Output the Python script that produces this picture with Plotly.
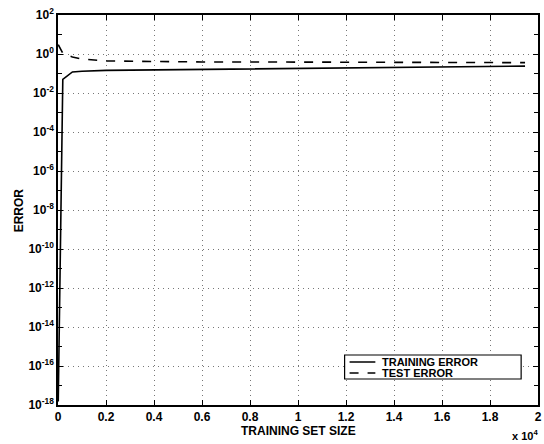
import plotly.graph_objects as go

# Data
train_x = [10, 200, 600, 1000, 2000, 3000, 4000, 6000, 8000, 10000, 12000, 14000, 16000, 18000, 19460]
train_y = [1.5e-18, 0.05, 0.12, 0.13, 0.145, 0.15, 0.155, 0.165, 0.175, 0.185, 0.195, 0.205, 0.215, 0.23, 0.24]
test_x = [10, 200, 600, 1000, 2000, 3000, 4000, 6000, 8000, 10000, 12000, 14000, 16000, 18000, 19460]
test_y = [3.0, 1.1, 0.7, 0.55, 0.44, 0.42, 0.40, 0.39, 0.39, 0.39, 0.39, 0.38, 0.38, 0.37, 0.36]
series_names = ["TRAINING ERROR", "TEST ERROR"]

x_tickvals = [0, 2000, 4000, 6000, 8000, 10000, 12000, 14000, 16000, 18000, 20000]
x_ticktext = ["0", "0.2", "0.4", "0.6", "0.8", "1", "1.2", "1.4", "1.6", "1.8", "2"]
y_exps = [2, 0, -2, -4, -6, -8, -10, -12, -14, -16, -18]

FONT = "Liberation Sans, Arial, sans-serif"
L, R, T, B, W, H = 58, 2, 15, 39, 544, 444
PW, PH = W - L - R, H - T - B


def px(x):
    return (x - L) / PW


def py(y):
    return (H - B - y) / PH


fig = go.Figure()
fig.add_trace(go.Scatter(x=train_x, y=train_y, mode="lines", name=series_names[0],
                         line=dict(color="black", width=1.6)))
fig.add_trace(go.Scatter(x=test_x, y=test_y, mode="lines", name=series_names[1],
                         line=dict(color="black", width=1.6, dash="dash")))

fig.update_layout(
    width=W, height=H,
    margin=dict(l=L, r=R, t=T, b=B),
    paper_bgcolor="white", plot_bgcolor="white",
    font=dict(family=FONT, size=12, color="black"),
    showlegend=False,
)

grid_style = dict(showgrid=True, gridcolor="#777777", gridwidth=1, griddash="1px,4px")

fig.update_xaxes(
    range=[0, 20000], tickvals=x_tickvals, ticktext=["<b>%s</b>" % t for t in x_ticktext],
    showline=True, linecolor="black", linewidth=1.5, mirror="ticks",
    ticks="inside", ticklen=5, tickcolor="black",
    zeroline=False, tickfont=dict(size=12), **grid_style,
)
fig.update_yaxes(
    type="log", range=[-18, 2],
    tickvals=[10.0 ** e for e in y_exps],
    ticktext=["<b>10<sup>%d</sup></b>" % e for e in y_exps],
    showline=True, linecolor="black", linewidth=1.5, mirror="ticks",
    ticks="inside", ticklen=5, tickcolor="black",
    minor=dict(tickvals=[10.0 ** e for e in range(-17, 2, 2)], ticks="inside", ticklen=4,
               tickcolor="black", showgrid=False),
    zeroline=False, tickfont=dict(size=12), **grid_style,
)

# axis titles
fig.add_annotation(text="<b>TRAINING SET SIZE</b>", xref="paper", yref="paper",
                   x=0.5, y=py(431), xanchor="center", yanchor="middle", showarrow=False,
                   font=dict(size=12))
fig.add_annotation(text="<b>ERROR</b>", xref="paper", yref="paper", textangle=-90,
                   x=px(19), y=0.5, xanchor="center", yanchor="middle", showarrow=False,
                   font=dict(size=12))
fig.add_annotation(text="<b>x 10<sup>4</sup></b>", xref="paper", yref="paper",
                   x=px(544), y=py(435), xanchor="right", yanchor="middle", showarrow=False,
                   font=dict(size=11))

# legend box
fig.add_shape(type="rect", xref="paper", yref="paper", x0=px(347), x1=px(525), y0=py(379), y1=py(355),
              line=dict(color="black", width=1.2), fillcolor="white", layer="above")
rows = [362, 373]
dashes = ["solid", "dash"]
for name, row, dsh in zip(series_names, rows, dashes):
    fig.add_shape(type="line", xref="paper", yref="paper", x0=px(352), x1=px(378), y0=py(row), y1=py(row),
                  line=dict(color="black", width=1.5, dash=dsh), layer="above")
    fig.add_annotation(text="<b>%s</b>" % name, xref="paper", yref="paper",
                       x=px(383), y=py(row), xanchor="left", yanchor="middle", showarrow=False,
                       font=dict(size=11))

fig.write_html("out.html", config={"displayModeBar": False},
               post_script="document.body.style.margin='0';document.body.style.overflow='hidden';")
